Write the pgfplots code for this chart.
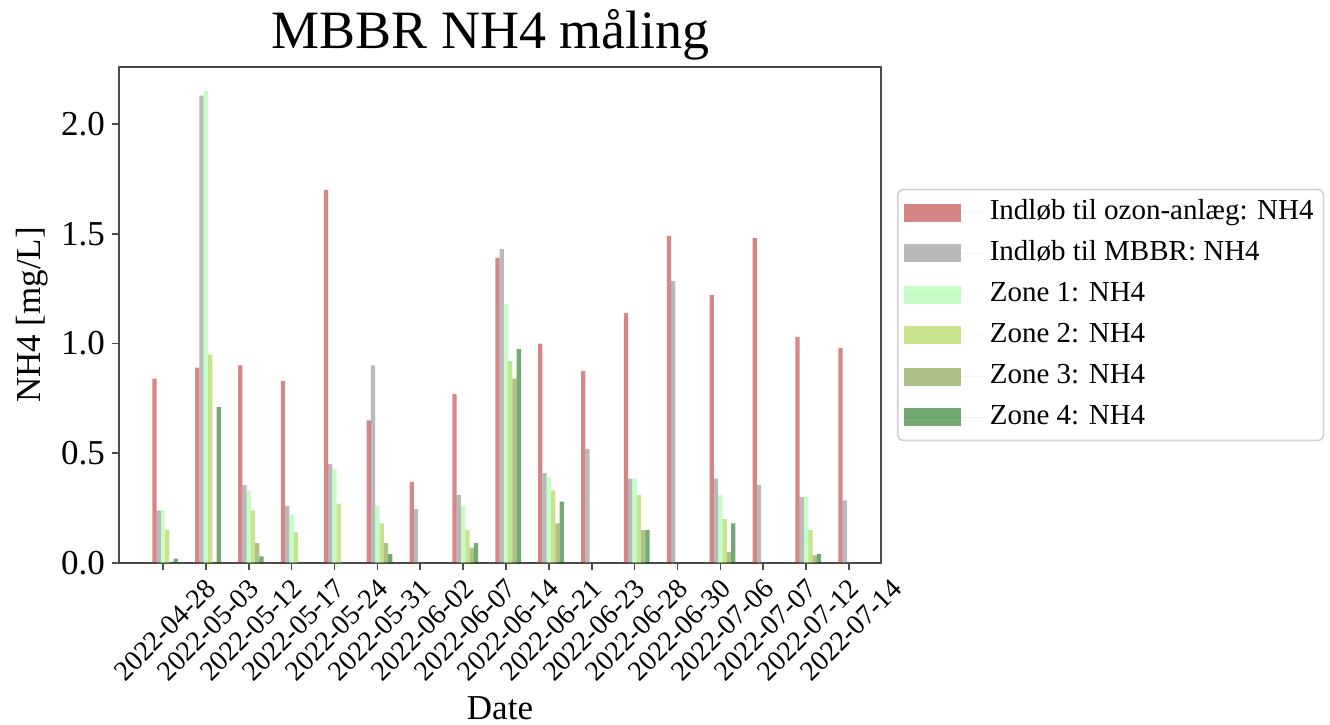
\documentclass[border=0pt]{standalone}
\usepackage{fontspec}
\setmainfont{Liberation Serif}
\usepackage{pgfplots}
\usepackage{pgfplotstable}
\pgfplotsset{compat=1.18}

\definecolor{cRed}{RGB}{178,34,34}
\definecolor{cGray}{RGB}{128,128,128}
\definecolor{cZa}{RGB}{152,251,152}
\definecolor{cZb}{RGB}{154,205,50}
\definecolor{cZc}{RGB}{107,142,35}
\definecolor{cZd}{RGB}{0,100,0}

% NH4 [mg/L] per date; nan = no measurement
\pgfplotstableread{
idx red   gray  z1    z2    z3    z4
0   0.84  0.24  0.24  0.15  nan   0.02
1   0.89  2.13  2.15  0.95  nan   0.71
2   0.90  0.355 0.33  0.24  0.09  0.03
3   0.83  0.26  0.22  0.14  nan   nan
4   1.70  0.45  0.43  0.27  nan   nan
5   0.65  0.90  0.26  0.18  0.09  0.04
6   0.37  0.245 nan   nan   nan   nan
7   0.77  0.31  0.26  0.15  0.07  0.09
8   1.39  1.43  1.18  0.92  0.84  0.975
9   1.00  0.41  0.39  0.33  0.18  0.28
10  0.875 0.52  nan   nan   nan   nan
11  1.14  0.385 0.385 0.31  0.15  0.15
12  1.49  1.285 nan   nan   nan   nan
13  1.22  0.385 0.31  0.20  0.05  0.18
14  1.48  0.355 nan   nan   nan   nan
15  1.03  0.30  0.30  0.15  0.035 0.04
16  0.98  0.285 nan   nan   nan   nan
}\nhdata

\pgfplotsset{
  barpatch/.style={legend image code/.code={
    \fill[#1,sharp corners] (0pt,-4.5pt) rectangle (28.5pt,4.5pt);
    \path (0pt,0pt) -- (41pt,0pt);}},
}

\begin{document}
\begin{tikzpicture}
\path[use as bounding box] (-59.5pt,-80.5pt) rectangle (605.5pt,281.5pt);
\begin{axis}[
    at={(0,0)}, anchor=south west,
    width=381pt, height=248pt, scale only axis,
    xmin=-1.026, xmax=16.746,
    ymin=0, ymax=2.26,
    ybar, bar width=0.1,
    xtick={0,...,16},
    xticklabels={2022-04-28,2022-05-03,2022-05-12,2022-05-17,2022-05-24,2022-05-31,2022-06-02,2022-06-07,2022-06-14,2022-06-21,2022-06-23,2022-06-28,2022-06-30,2022-07-06,2022-07-07,2022-07-12,2022-07-14},
    ytick={0,0.5,1,1.5,2},
    yticklabel style={/pgf/number format/.cd,fixed,fixed zerofill,precision=1},
    /pgf/number format/assume math mode=true,
    tick align=outside, tick pos=left,
    major tick length=3.5pt,
    tick style={black!70, line width=0.8pt},
    axis line style={black!70, line width=0.8pt},
    ticklabel style={font=\fontsize{17.5}{20}\selectfont},
    xticklabel style={font=\fontsize{14}{16}\selectfont, yshift=-30pt, xshift=1pt, rotate=45, anchor=center},
    title={MBBR NH4 måling},
    title style={font=\fontsize{27}{30}\selectfont, at={(0.488,1)}, anchor=base, yshift=3pt},
    xlabel={Date},
    xlabel style={font=\fontsize{17.5}{20}\selectfont, at={(0.5,-0.292)}, anchor=center},
    ylabel={NH4 [mg/L]},
    ylabel style={font=\fontsize{17.5}{20}\selectfont, at={(-0.114,0.5)}, anchor=center},
    legend cell align=left,
    legend style={at={(1.021,0.5)}, anchor=west,
      font=\fontsize{14.5}{17}\selectfont,
      draw=black!18, line width=0.8pt, rounded corners=3pt,
      inner sep=3pt, row sep=3.5pt,
      nodes={inner sep=2pt, text height=10pt, text depth=3pt}},
]
\addplot[fill=cRed, draw=none, fill opacity=0.55, bar shift=-0.2, barpatch=cRed]
  table[x=idx, y=red] {\nhdata};
\addlegendentry{Indløb til ozon-anlæg: NH4}
\addplot[fill=cGray, draw=none, fill opacity=0.55, bar shift=-0.1, barpatch=cGray]
  table[x=idx, y=gray] {\nhdata};
\addlegendentry{Indløb til MBBR: NH4}
\addplot[fill=cZa, draw=none, fill opacity=0.55, bar shift=0, barpatch=cZa]
  table[x=idx, y=z1] {\nhdata};
\addlegendentry{Zone 1: NH4}
\addplot[fill=cZb, draw=none, fill opacity=0.55, bar shift=0.1, barpatch=cZb]
  table[x=idx, y=z2] {\nhdata};
\addlegendentry{Zone 2: NH4}
\addplot[fill=cZc, draw=none, fill opacity=0.55, bar shift=0.2, barpatch=cZc]
  table[x=idx, y=z3] {\nhdata};
\addlegendentry{Zone 3: NH4}
\addplot[fill=cZd, draw=none, fill opacity=0.55, bar shift=0.3, barpatch=cZd]
  table[x=idx, y=z4] {\nhdata};
\addlegendentry{Zone 4: NH4}
\end{axis}
\end{tikzpicture}
\end{document}
